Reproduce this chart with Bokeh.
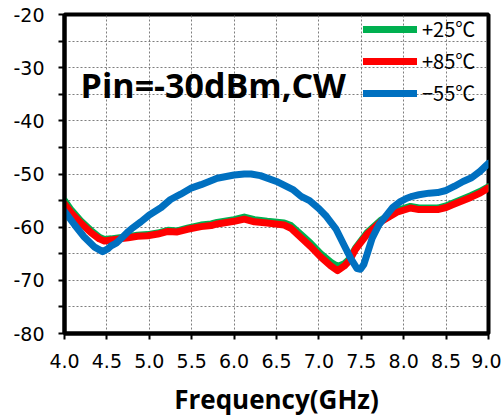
from bokeh.plotting import figure
from bokeh.models import FixedTicker, Range1d, Legend, LegendItem, Label
from bokeh.embed import file_html
from bokeh.resources import INLINE

# ---- data ----
freq_blue = [4.00, 4.12, 4.23, 4.35, 4.45, 4.51, 4.55, 4.61, 4.65, 4.74, 4.79, 4.90, 5.00, 5.14,
             5.25, 5.37, 5.50, 5.61, 5.72, 5.80, 6.00, 6.12, 6.20, 6.31, 6.50, 6.70, 6.79, 6.89,
             7.00, 7.09, 7.20, 7.30, 7.38, 7.45, 7.49, 7.53, 7.58, 7.63, 7.71, 7.80, 7.87, 7.95,
             8.03, 8.10, 8.18, 8.30, 8.40, 8.50, 8.60, 8.70, 8.80, 8.90, 9.00]
m55 = [-57.0, -59.6, -61.8, -63.7, -64.6, -64.1, -63.5, -63.0, -62.4, -61.0, -60.3, -59.0, -57.7, -56.3,
       -54.8, -53.8, -52.6, -52.0, -51.3, -50.8, -50.2, -50.0, -50.0, -50.3, -51.4, -53.0, -54.2, -55.0,
       -56.5, -58.0, -60.3, -63.5, -66.0, -67.8, -67.9, -67.0, -64.5, -62.0, -59.5, -57.7, -56.3, -55.3,
       -54.6, -54.2, -53.9, -53.6, -53.5, -53.1, -52.3, -51.4, -50.7, -49.5, -48.0]

freq_rg = [4.00, 4.08, 4.19, 4.31, 4.41, 4.47, 4.55, 4.65, 4.75, 4.86, 4.98, 5.10, 5.22, 5.33,
           5.45, 5.61, 5.73, 5.80, 6.00, 6.12, 6.24, 6.39, 6.59, 6.67, 6.79, 6.90, 7.02, 7.14,
           7.22, 7.30, 7.36, 7.43, 7.57, 7.73, 7.92, 8.08, 8.18, 8.28, 8.40, 8.50, 8.59, 8.79,
           8.90, 9.00]
p85 = [-55.6, -57.3, -59.2, -61.0, -62.2, -62.6, -62.4, -62.2, -62.0, -61.7, -61.6, -61.3, -60.8, -60.9,
       -60.4, -59.9, -59.7, -59.4, -58.9, -58.5, -59.0, -59.2, -59.6, -60.2, -62.0, -63.6, -65.6, -67.3,
       -68.2, -67.3, -66.3, -64.2, -61.3, -59.0, -57.2, -56.4, -56.7, -56.7, -56.7, -56.3, -55.7, -54.4,
       -53.6, -52.6]
p25 = [-55.0, -56.8, -58.8, -60.6, -61.9, -62.3, -62.2, -62.0, -61.8, -61.5, -61.4, -61.1, -60.6, -60.7,
       -60.2, -59.6, -59.4, -59.1, -58.6, -58.1, -58.6, -58.9, -59.2, -59.7, -61.4, -63.0, -65.0, -66.6,
       -67.4, -66.9, -66.0, -64.0, -61.0, -58.7, -56.9, -56.1, -56.4, -56.4, -56.4, -56.0, -55.4, -54.1,
       -53.3, -52.4]

x_ticks = [4.0, 4.5, 5.0, 5.5, 6.0, 6.5, 7.0, 7.5, 8.0, 8.5, 9.0]
x_tick_labels = ["4.0", "4.5", "5.0", "5.5", "6.0", "6.5", "7.0", "7.5", "8.0", "8.5", "9.0"]
y_ticks = [-80, -70, -60, -50, -40, -30, -20]
y_tick_labels = ["-80", "-70", "-60", "-50", "-40", "-30", "-20"]
y_minor = [-75, -65, -55, -45, -35, -25]
legend_labels = ["+25℃", "+85℃", "−55℃"]
title_text = "Pin=-30dBm,CW"
x_label = "Frequency(GHz)"

p = figure(width=501, height=419, output_backend="svg", toolbar_location=None,
           x_range=Range1d(4, 9), y_range=Range1d(-80, -20),
           min_border_left=64, min_border_right=13, min_border_top=14, min_border_bottom=83)
p.background_fill_color = "white"
p.border_fill_color = "white"
p.outline_line_color = "black"
p.outline_line_width = 4
p.outline_line_alpha = 1.0

xt = FixedTicker(ticks=x_ticks, minor_ticks=[])
yt = FixedTicker(ticks=y_ticks, minor_ticks=y_minor)
p.xaxis.ticker = xt
p.yaxis.ticker = yt
p.xgrid.ticker = xt
p.ygrid.ticker = yt
p.xaxis.major_label_overrides = dict(zip(x_ticks, x_tick_labels))
p.yaxis.major_label_overrides = dict(zip(y_ticks, y_tick_labels))

for ax in (p.xaxis, p.yaxis):
    ax.axis_line_color = "black"
    ax.axis_line_width = 4
    ax.major_tick_line_color = "black"
    ax.major_tick_line_width = 2
    ax.major_tick_out = 6
    ax.major_tick_in = 0
    ax.minor_tick_line_color = "black"
    ax.minor_tick_line_width = 2
    ax.minor_tick_out = 6
    ax.minor_tick_in = 0
    ax.major_label_text_font = "DejaVu Sans"
    ax.major_label_text_font_size = "19px"
    ax.major_label_text_color = "black"
p.xaxis.minor_tick_out = 0
p.xaxis.major_label_standoff = 14
p.yaxis.major_label_standoff = 14
p.xaxis.axis_label = x_label
p.xaxis.axis_label_text_font = "Open Sans"
p.xaxis.axis_label_text_font_style = "bold"
p.xaxis.axis_label_text_font_size = "26px"
p.xaxis.axis_label_text_color = "black"
p.xaxis.axis_label_standoff = 10

for g in (p.xgrid, p.ygrid):
    g.grid_line_color = "#707070"
    g.grid_line_dash = "2 2"
    g.grid_line_width = 1
    g.grid_line_alpha = 0.9
p.ygrid.minor_grid_line_color = "#707070"
p.ygrid.minor_grid_line_dash = "2 2"
p.ygrid.minor_grid_line_width = 1
p.ygrid.minor_grid_line_alpha = 0.9

r25 = p.line(freq_rg, p25, line_color="#00B050", line_width=7, line_cap="round", line_join="round")
r85 = p.line(freq_rg, p85, line_color="#FF0000", line_width=7, line_cap="round", line_join="round")
r55 = p.line(freq_blue, m55, line_color="#0070C0", line_width=7, line_cap="round", line_join="round")

legend = Legend(items=[LegendItem(label=legend_labels[0], renderers=[r25]),
                       LegendItem(label=legend_labels[1], renderers=[r85]),
                       LegendItem(label=legend_labels[2], renderers=[r55])],
                location=(299, 226), padding=0, margin=0, spacing=3,
                glyph_width=54, glyph_height=20, label_height=20, label_standoff=5,
                border_line_alpha=0, background_fill_alpha=0,
                label_text_font="Noto Sans CJK JP", label_text_font_size="20px",
                label_text_color="black")
p.add_layout(legend)

p.add_layout(Label(x=4.19, y=-33.2, text=title_text, text_font="Open Sans",
                   text_font_style="bold", text_font_size="34px", text_color="black",
                   text_baseline="alphabetic"))

open("out.html", "w").write(file_html(p, INLINE))
